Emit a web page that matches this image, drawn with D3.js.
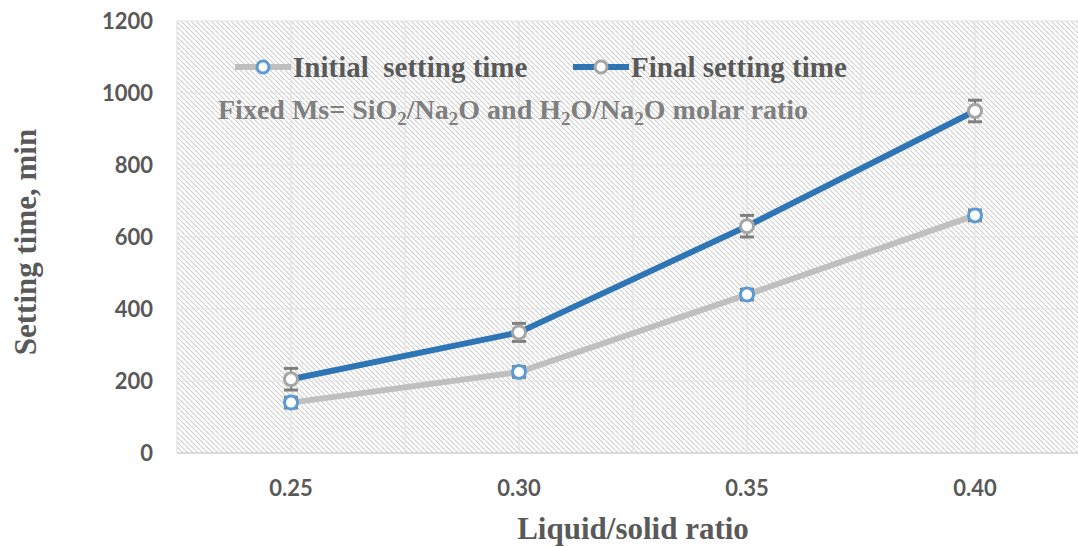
<!DOCTYPE html>
<html>
<head>
<meta charset="utf-8">
<script src="https://cdn.jsdelivr.net/npm/d3@7/dist/d3.min.js"></script>
<style>
  html, body { margin: 0; padding: 0; background: #fff; }
  svg { display: block; }
</style>
</head>
<body>
<svg id="chart" width="1078" height="547"></svg>
<script>
// Liquid/solid ratio categories and setting times (min)
const categories = ["0.25", "0.30", "0.35", "0.40"];
const initialTime = [140, 225, 440, 660];
const initialErr = [15, 15, 15, 15];
const finalTime = [205, 335, 630, 950];
const finalErr = [30, 25, 30, 30];
const yTicks = [0, 200, 400, 600, 800, 1000, 1200];
const seriesNames = ["Initial  setting time", "Final setting time"];

const svg = d3.select("#chart");
const plot = { left: 177, right: 1089, top: 21, bottom: 453 };

const x = d3.scaleBand().domain(categories).range([plot.left, plot.right]).padding(0);
const y = d3.scaleLinear().domain([0, 1200]).range([plot.bottom, plot.top]);
const cx = c => x(c) + x.bandwidth() / 2;

const serif = "'Liberation Serif', 'DejaVu Serif', serif";
const sans = "Lato, 'Open Sans', sans-serif";

// diagonal hatch fill of the plot area
const defs = svg.append("defs");
const pat = defs.append("pattern")
  .attr("id", "hatch").attr("patternUnits", "userSpaceOnUse")
  .attr("width", 5).attr("height", 5);
pat.append("path")
  .attr("d", "M-1,-1 L1,1 M0,0 L5,5 M4,4 L6,6")
  .attr("stroke", "#d0d0d0").attr("stroke-width", 1.2);

svg.append("rect")
  .attr("x", plot.left).attr("y", plot.top)
  .attr("width", plot.right - plot.left).attr("height", plot.bottom - plot.top)
  .attr("fill", "url(#hatch)");

// grid lines
const grid = svg.append("g");
grid.selectAll("line.h").data(yTicks).join("line")
  .attr("x1", plot.left).attr("x2", plot.right)
  .attr("y1", d => y(d)).attr("y2", d => y(d))
  .attr("stroke", d => d === 0 ? "#d0d0d0" : "#e2e2e2").attr("stroke-width", d => d === 0 ? 1.5 : 1.2);
const vEdges = categories.map(c => x(c)).concat(categories.map(c => cx(c)));
grid.selectAll("line.v").data(vEdges).join("line")
  .attr("y1", plot.top).attr("y2", plot.bottom)
  .attr("x1", d => d).attr("x2", d => d)
  .attr("stroke", "#e2e2e2").attr("stroke-width", 1.2);

// y axis tick labels
const yAxis = svg.append("g")
  .attr("transform", `translate(${plot.left - 24},0)`)
  .call(d3.axisLeft(y).tickValues(yTicks).tickFormat(d3.format("d")).tickSize(0).tickPadding(0));
yAxis.select(".domain").remove();
yAxis.selectAll("text")
  .attr("font-family", sans).attr("font-weight", "bold")
  .attr("font-size", 22).attr("fill", "#595959").attr("dy", "0.36em");

// x axis tick labels
const xAxis = svg.append("g")
  .attr("transform", `translate(0,${plot.bottom + 27})`)
  .call(d3.axisBottom(x).tickSize(0).tickPadding(0));
xAxis.select(".domain").remove();
xAxis.selectAll("text")
  .attr("font-family", sans).attr("font-weight", "bold")
  .attr("font-size", 22).attr("fill", "#595959").attr("dy", "0.71em");

// axis titles
svg.append("text")
  .attr("transform", "translate(36,242) rotate(-90)")
  .attr("text-anchor", "middle")
  .attr("font-family", serif).attr("font-weight", "bold")
  .attr("font-size", 31).attr("fill", "#595959")
  .text("Setting time, min");
svg.append("text")
  .attr("x", 633).attr("y", 539)
  .attr("text-anchor", "middle")
  .attr("font-family", serif).attr("font-weight", "bold")
  .attr("font-size", 31).attr("fill", "#595959")
  .text("Liquid/solid ratio");

// series
const series = [
  { name: seriesNames[0], values: initialTime, err: initialErr, line: "#bfbfbf", marker: "#5b9bd5" },
  { name: seriesNames[1], values: finalTime, err: finalErr, line: "#2e75b6", marker: "#a5a5a5" }
];

const line = d3.line().x(d => cx(d.c)).y(d => y(d.v));

series.forEach(s => {
  const pts = categories.map((c, i) => ({ c, v: s.values[i], e: s.err[i] }));
  const g = svg.append("g");
  g.append("path").datum(pts)
    .attr("d", line).attr("fill", "none")
    .attr("stroke", s.line).attr("stroke-width", 6).attr("stroke-linejoin", "round");
  // error bars
  const eb = g.selectAll("g.err").data(pts).join("g");
  eb.append("line")
    .attr("x1", d => cx(d.c)).attr("x2", d => cx(d.c))
    .attr("y1", d => y(d.v - d.e)).attr("y2", d => y(d.v + d.e))
    .attr("stroke", "#7f7f7f").attr("stroke-width", 2);
  [-1, 1].forEach(sign => {
    eb.append("line")
      .attr("x1", d => cx(d.c) - 7).attr("x2", d => cx(d.c) + 7)
      .attr("y1", d => y(d.v + sign * d.e)).attr("y2", d => y(d.v + sign * d.e))
      .attr("stroke", "#7f7f7f").attr("stroke-width", 3);
  });
  g.selectAll("circle").data(pts).join("circle")
    .attr("cx", d => cx(d.c)).attr("cy", d => y(d.v)).attr("r", 6.5)
    .attr("fill", "#fff").attr("stroke", s.marker).attr("stroke-width", 3);
});

// legend
const legendPos = [{ x: 235, y: 67 }, { x: 573, y: 67 }];
series.forEach((s, i) => {
  const p = legendPos[i];
  const lg = svg.append("g").attr("transform", `translate(${p.x},${p.y})`);
  lg.append("line").attr("x1", 0).attr("x2", 56).attr("y1", 0).attr("y2", 0)
    .attr("stroke", s.line).attr("stroke-width", 6);
  lg.append("circle").attr("cx", 28).attr("cy", 0).attr("r", 6)
    .attr("fill", "#fff").attr("stroke", s.marker).attr("stroke-width", 3);
  lg.append("text").attr("x", 58).attr("y", 0).attr("dy", "0.33em")
    .attr("font-family", serif).attr("font-weight", "bold")
    .attr("font-size", 29).attr("fill", "#595959")
    .attr("xml:space", "preserve")
    .text(s.name);
});

// annotation with subscripts
const note = svg.append("text")
  .attr("x", 218).attr("y", 119)
  .attr("font-family", serif).attr("font-weight", "bold")
  .attr("font-size", 28).attr("fill", "#7f7f7f");
const parts = [["Fixed Ms= SiO", 0], ["2", 1], ["/Na", 0], ["2", 1], ["O and H", 0], ["2", 1], ["O/Na", 0], ["2", 1], ["O molar ratio", 0]];
let shifted = false;
parts.forEach(([t, sub]) => {
  const ts = note.append("tspan").text(t);
  if (sub && !shifted) { ts.attr("dy", 6).attr("font-size", 19); shifted = true; }
  else if (sub) { ts.attr("font-size", 19); }
  else if (shifted) { ts.attr("dy", -6); shifted = false; }
});
</script>
</body>
</html>
